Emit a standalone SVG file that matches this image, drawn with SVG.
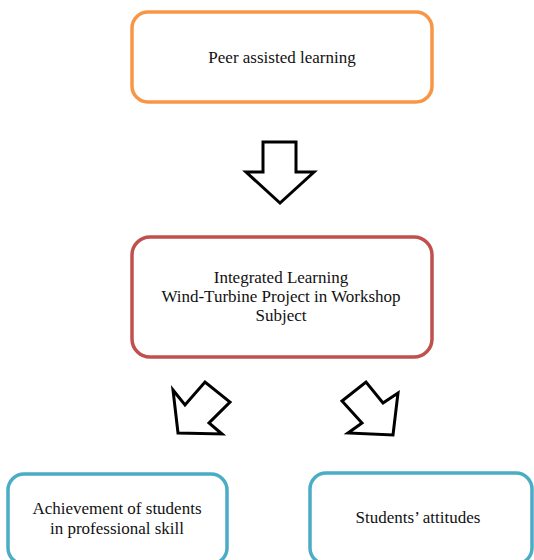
<svg xmlns="http://www.w3.org/2000/svg" width="534" height="560" viewBox="0 0 534 560">
<style>
.box{fill:#fff;stroke-width:3.5}
.t{font-family:"Liberation Serif","Times New Roman",serif;font-size:17px;fill:#111;text-anchor:middle}
.arr{fill:#fff;stroke:#000;stroke-width:3;stroke-linejoin:miter}
</style>
<rect width="534" height="560" fill="#fff"/>
<g id="peer">
<rect class="box" x="132" y="12" width="300" height="90" rx="16" stroke="#F79646"/>
<text class="t" x="282" y="63">Peer assisted learning</text>
</g>
<g id="integrated">
<rect class="box" x="132" y="237" width="300" height="120" rx="18" stroke="#C0504D"/>
<text class="t" x="281" y="283">Integrated Learning</text>
<text class="t" x="281" y="302">Wind-Turbine Project in Workshop</text>
<text class="t" x="281" y="321">Subject</text>
</g>
<g id="achievement">
<rect class="box" x="8" y="474" width="219" height="90" rx="16" stroke="#4BACC6"/>
<text class="t" x="117" y="514">Achievement of students</text>
<text class="t" x="117" y="534">in professional skill</text>
</g>
<g id="attitudes">
<rect class="box" x="310" y="473" width="222" height="91" rx="16" stroke="#4BACC6"/>
<text class="t" x="418" y="523">Students’ attitudes</text>
</g>
<g id="connectors">
<polygon class="arr" points="263,142 296,142 296,172 314,172 280,203 246,172 263,172"/>
<polygon class="arr" points="173,390 185,405 205,382 230,402 209,423 222,434 178,433"/>
<polygon class="arr" points="342,401 366,382 383,403 398,393 393,435 348,433 362,423"/>
</g>
</svg>
